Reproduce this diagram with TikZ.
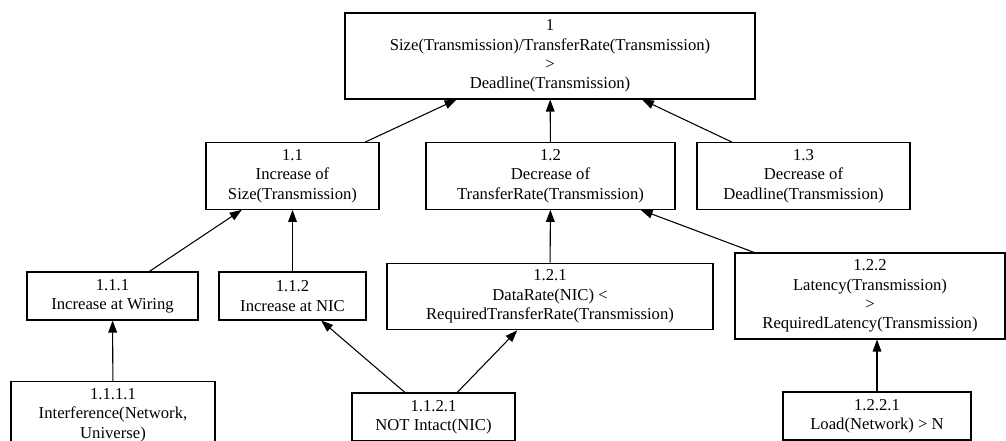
\documentclass[tikz,border=0pt]{standalone}
\usepackage{fontspec}
\setmainfont{Liberation Serif}
\usetikzlibrary{arrows.meta}
\begin{document}
\begin{tikzpicture}[x=0.75pt,y=0.75pt,line width=0.8pt,
  >={Triangle[length=9pt,width=6.5pt]},
  box/.style={draw,align=center,inner sep=0pt,font=\fontsize{12.5}{14.5}\selectfont},
  two/.style={box,minimum height=36pt},
  three/.style={box,minimum height=50pt},
  four/.style={box,minimum height=64.5pt}]
\useasboundingbox (0,0) rectangle (1006,441);
\clip (0,0) rectangle (1006,441);
\node[four,minimum width=307.5pt] (v1) at (550,385) {1\\Size(Transmission)/TransferRate(Transmission)\\>\\Deadline(Transmission)};
\node[three,minimum width=129.75pt] (v11) at (292.5,265) {1.1\\Increase of\\Size(Transmission)};
\node[three,minimum width=186.75pt] (v12) at (550.5,265) {1.2\\Decrease of\\TransferRate(Transmission)};
\node[three,minimum width=159.75pt] (v13) at (803.5,265) {1.3\\Decrease of\\Deadline(Transmission)};
\node[two,minimum width=128.25pt] (v111) at (112.5,145) {1.1.1\\Increase at Wiring};
\node[two,minimum width=110.25pt] (v112) at (292.5,145) {1.1.2\\Increase at NIC};
\node[three,minimum width=244.5pt] (v121) at (550,144.5) {1.2.1\\DataRate(NIC) <\\RequiredTransferRate(Transmission)};
\node[four,minimum width=202.5pt] (v122) at (870,145) {1.2.2\\Latency(Transmission)\\>\\RequiredLatency(Transmission)};
\node[three,minimum width=153pt] (v1111) at (113,26) {1.1.1.1\\Interference(Network,\\Universe)};
\node[two,minimum width=122.25pt] (v1121) at (433.5,24) {1.1.2.1\\NOT Intact(NIC)};
\node[two,minimum width=141pt] (v1221) at (877,25) {1.2.2.1\\Load(Network) > N};
\draw [->] (v11) edge (v1);
\draw [->] (v12) edge (v1);
\draw [->] (v13) edge (v1);
\draw [->] (v111) edge (v11);
\draw [->] (v112) edge (v11);
\draw [->] (v121) edge (v12);
\draw [->] (v122) edge (v12);
\draw [->] (v1111) edge (v111);
\draw [->] (v1121) edge (v112);
\draw [->] (v1121) edge (v121);
\draw [->] (v1221) edge (v1221 |- v122.south);
\end{tikzpicture}
\end{document}
